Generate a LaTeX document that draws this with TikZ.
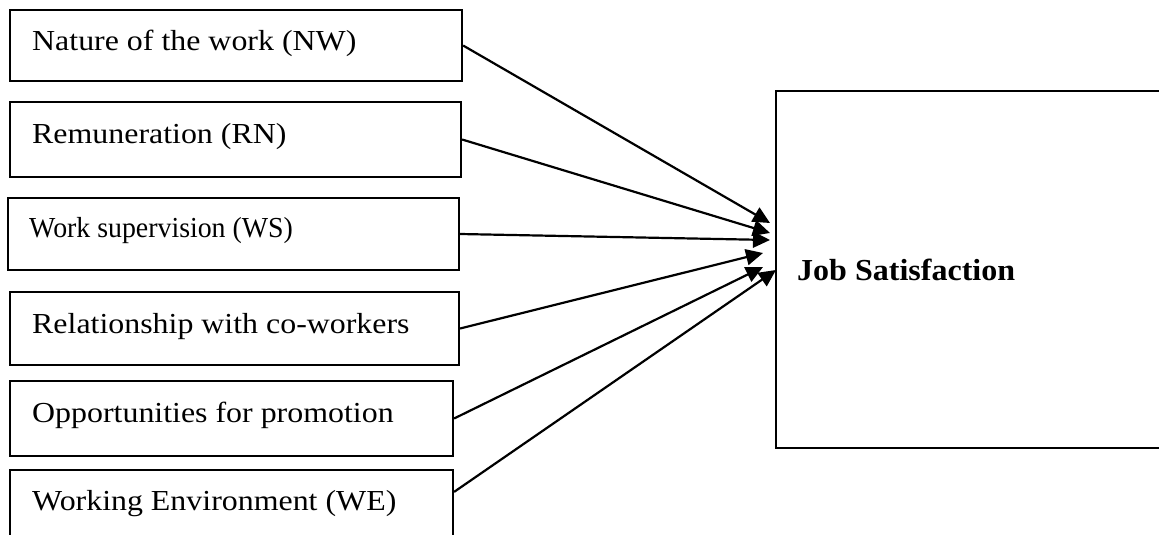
\documentclass[tikz,border=0pt]{standalone}
\usepackage{fontspec}
\setmainfont{Liberation Serif}
\usetikzlibrary{arrows.meta}
\begin{document}
\begin{tikzpicture}[x=1pt,y=-1pt,
  box/.style={draw, line width=2.2pt, inner sep=0pt},
  lbl/.style={anchor=base west, inner sep=0pt, font=\fontsize{29}{32}\selectfont},
  arr/.style={line width=2.2pt, -{Triangle[length=17pt,width=16pt]}}]
\useasboundingbox (0,0) rectangle (1159,535);
\clip (0,0) rectangle (1159,535);
% left boxes
\node[box, minimum width=452pt, minimum height=71pt] (b1) at (236,45.5) {};
\node[box, minimum width=451pt, minimum height=75pt] (b2) at (235.5,139.5) {};
\node[box, minimum width=451pt, minimum height=72pt] (b3) at (233.5,234) {};
\node[box, minimum width=449pt, minimum height=73pt] (b4) at (234.5,328.5) {};
\node[box, minimum width=443pt, minimum height=75pt] (b5) at (231.5,418.5) {};
\node[box, minimum width=443pt, minimum height=75pt] (b6) at (231.5,507.5) {};
% labels
\node[lbl] (t1) at (32,51) {\scalebox{1.1}[1]{Nature of the work (NW)}};
\node[lbl] (t2) at (32,143) {\scalebox{1.1}[1]{Remuneration (RN)}};
\node[lbl] (t3) at (29,237) {\scalebox{0.96}[1]{Work supervision (WS)}};
\node[lbl] (t4) at (32,333) {\scalebox{1.1}[1]{Relationship with co-workers}};
\node[lbl] (t5) at (32,422) {\scalebox{1.1}[1]{Opportunities for promotion}};
\node[lbl] (t6) at (32,510) {\scalebox{1.1}[1]{Working Environment (WE)}};
% right box
\node[box, minimum width=394pt, minimum height=357pt] (js) at (973,269.5) {};
\node[lbl, font=\fontsize{30.5}{32}\selectfont\bfseries] (jst) at (797,280) {\scalebox{1.05}[1]{Job Satisfaction}};
% arrow ends
\coordinate (e1) at (770,223);
\coordinate (e2) at (770,233);
\coordinate (e3) at (770,240);
\coordinate (e4) at (763,253);
\coordinate (e5) at (763,267);
\coordinate (e6) at (776,270);
\draw[arr] (b1.east) -- (e1);
\draw[arr] (b2.east) -- (e2);
\draw[arr] (b3.east) -- (e3);
\draw[arr] (b4.east) -- (e4);
\draw[arr] (b5.east) -- (e5);
\draw[arr] ([yshift=-23pt]b6.north east) -- (e6);
\end{tikzpicture}
\end{document}
